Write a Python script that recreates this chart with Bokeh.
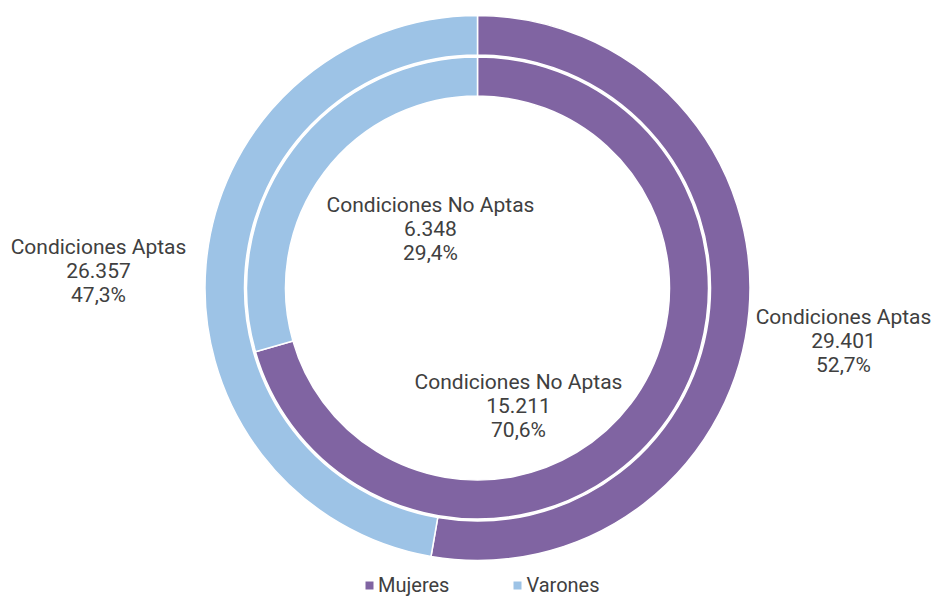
import math
from bokeh.plotting import figure
from bokeh.models import Range1d, ColumnDataSource, Legend, LegendItem
from bokeh.core.properties import value
from bokeh.embed import file_html
from bokeh.resources import INLINE

# ---- data ----
groups = ["Mujeres", "Varones"]
colors = ["#8064A2", "#9DC3E6"]
aptas_values = [29401, 26357]          # outer ring
aptas_pct = ["52,7%", "47,3%"]
no_aptas_values = [15211, 6348]        # inner ring
no_aptas_pct = ["70,6%", "29,4%"]
aptas_label = "Condiciones Aptas"
no_aptas_label = "Condiciones No Aptas"

def fmt(v):
    return f"{v:,}".replace(",", ".")

W, H = 932, 597
p = figure(width=W, height=H, output_backend="svg", toolbar_location=None,
           x_range=Range1d(0, W), y_range=Range1d(0, H), min_border=0)
p.axis.visible = False
p.grid.visible = False
p.outline_line_color = None
p.background_fill_color = "white"

cx, cy = 477, 309.5

def ring(vals, r_in, r_out):
    tot = sum(vals)
    starts, ends = [], []
    a = math.pi / 2
    for v in vals:
        starts.append(a)
        a = a - v / tot * 2 * math.pi
        ends.append(a)
    src = ColumnDataSource(dict(start=starts, end=ends, color=colors[:len(vals)]))
    return p.annular_wedge(x=cx, y=cy, inner_radius=r_in, outer_radius=r_out,
                           start_angle="start", end_angle="end", direction="clock",
                           fill_color="color", line_color="white", line_width=1.5,
                           source=src)

ring(aptas_values, 233, 272.5)
ring(no_aptas_values, 192, 231)

# labels: offsets from the centre (px)
outer_offsets = [(366, -52.5), (-379, 17.5)]
inner_offsets = [(41, -117.5), (-47, 59.5)]
lx, ly, lt = [], [], []
for i in range(2):
    lx.append(cx + outer_offsets[i][0]); ly.append(cy + outer_offsets[i][1])
    lt.append(f"{aptas_label}\n{fmt(aptas_values[i])}\n{aptas_pct[i]}")
    lx.append(cx + inner_offsets[i][0]); ly.append(cy + inner_offsets[i][1])
    lt.append(f"{no_aptas_label}\n{fmt(no_aptas_values[i])}\n{no_aptas_pct[i]}")
p.text(x=lx, y=ly, text=lt, text_align="center", text_baseline="middle",
       text_font=value("Roboto"), text_font_size="21px", text_color="#404040",
       text_line_height=1.0)

# legend
items = []
nan = float("nan")
for g, c in zip(groups, colors):
    r = p.rect(x=[nan], y=[nan], width=1, height=1, fill_color=c, line_color=None)
    items.append(LegendItem(label=g, renderers=[r]))
leg = Legend(items=items, orientation="horizontal", location=(364, 0),
             glyph_width=10, glyph_height=10, label_standoff=4, spacing=63,
             label_text_font="Roboto", label_text_font_size="20px",
             label_text_color="#404040", border_line_color=None,
             background_fill_alpha=0, padding=0, margin=0)
p.add_layout(leg, "center")

open("out.html", "w").write(file_html(p, INLINE))
